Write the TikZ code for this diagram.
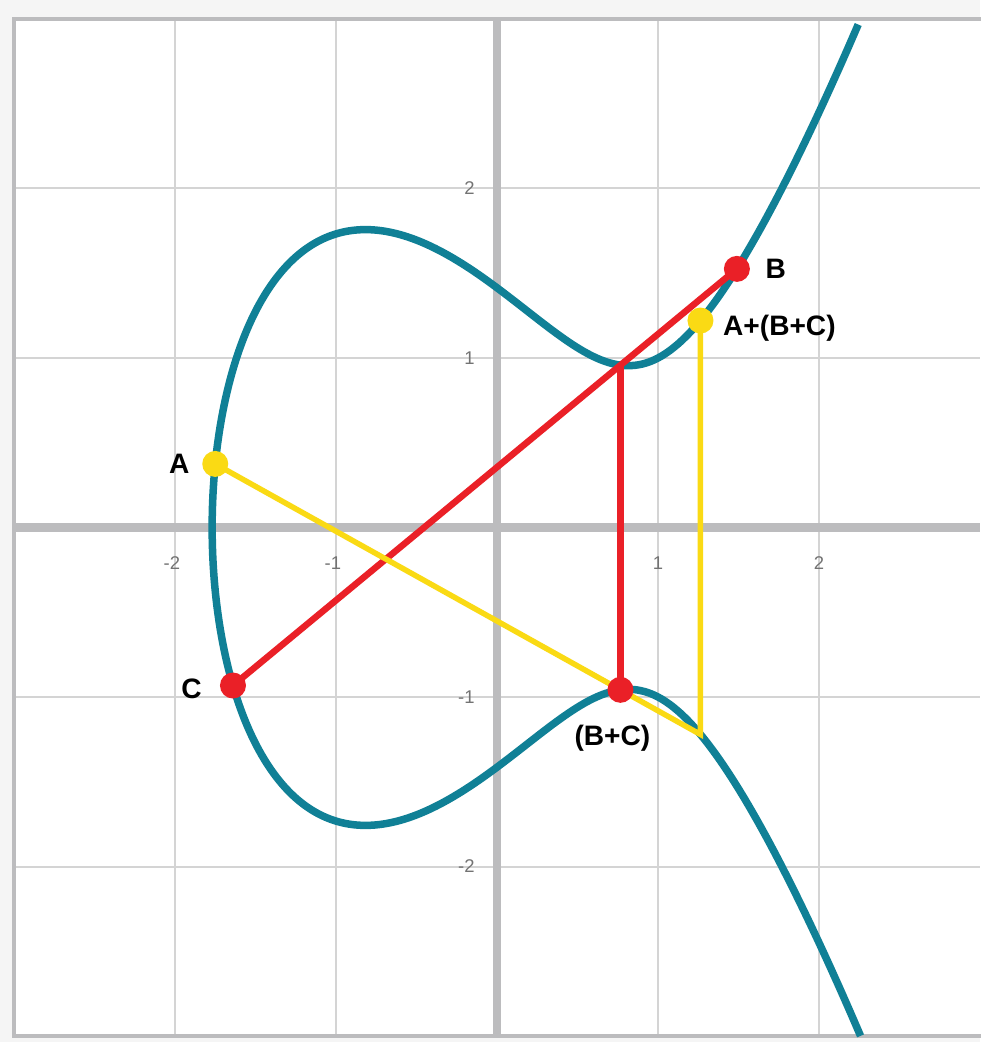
\documentclass[tikz,border=0pt]{standalone}
\usepackage{fontspec}
\setmainfont{Liberation Sans}
\usepackage{tikz}
\usetikzlibrary{positioning}
\definecolor{curvecol}{RGB}{16,128,150}
\definecolor{redpt}{RGB}{234,32,39}
\definecolor{yellowpt}{RGB}{250,218,20}
\definecolor{gridcol}{RGB}{212,212,212}
\definecolor{axiscol}{RGB}{188,188,190}
\definecolor{bgcol}{RGB}{245,245,245}
\definecolor{numcol}{RGB}{115,115,115}

\begin{document}
\begin{tikzpicture}[x=3.22cm,y=3.39cm,
    declare function={gq(\u)=\u*\u-1.76929*\u+1.130387;},
    pt/.style={circle,inner sep=0pt,minimum size=0.52cm},
    lbl/.style={inner sep=0pt,font=\fontsize{16}{19}\selectfont\bfseries},
    num/.style={inner sep=0pt,text=numcol,font=\fontsize{10.5}{12}\selectfont}]
  \useasboundingbox (-3.087,-3.0354) rectangle (3,3.1121);
  \fill[bgcol] (-3.087,-3.0354) rectangle (3,3.1121);
  \fill[white] (-3,-3) rectangle (3,3);
  % grid and axes
  \foreach \g in {-2,-1,1,2} {
    \draw[gridcol,line width=0.04cm] (\g,-3) -- (\g,3);
    \draw[gridcol,line width=0.04cm] (-3,\g) -- (3,\g);
  }
  \draw[axiscol,line width=0.16cm] (-3,0) -- (3,0);
  \draw[axiscol,line width=0.16cm] (0,-3) -- (0,3);
  \draw[axiscol,line width=0.08cm] (3.05,3) -- (-3,3) -- (-3,-3) -- (3.05,-3);
  \foreach \g/\t in {-2/\llap{-}2,-1/\llap{-}1,1/1,2/2} {
    \node[num] (xl\g) at (\g,-0.209) {\t};
    \node[num,anchor=east] (yl\g) at (-0.137,\g) {\g};
  }
  % y^2 = x^3 - 2x + 2, with x = x0 + t^2
  \draw[curvecol,line width=0.15cm,domain=-2.0068:2.0068,samples=241,smooth,variable=\t]
    plot ({\t*\t-1.76929},{\t*sqrt(gq(\t*\t-1.76929))});
  % points
  \coordinate (A) at (-1.75,0.375);
  \coordinate (B) at (1.49,1.52576);
  \coordinate (C) at (-1.64,-0.93223);
  \coordinate (P) at (0.766696,0.95775);
  \coordinate (BC) at (0.766696,-0.95775);
  \coordinate (Q) at (1.263741,-1.220966);
  \coordinate (S) at (1.263741,1.220966);
  \draw[redpt,line width=0.13cm] (C) -- (B);
  \draw[redpt,line width=0.13cm] (P) -- (BC);
  \draw[yellowpt,line width=0.11cm] (A) -- (Q) -- (S);
  \node[pt,fill=yellowpt] (Adot) at (A) {};
  \node[pt,fill=yellowpt] (Sdot) at (S) {};
  \node[pt,fill=redpt] (Bdot) at (B) {};
  \node[pt,fill=redpt] (Cdot) at (C) {};
  \node[pt,fill=redpt] (BCdot) at (BC) {};
  % labels
  \node[lbl,left=0.24cm of Adot] (Alab) {A};
  \node[lbl,right=0.3cm of Bdot] (Blab) {B};
  \node[lbl,left=0.35cm of Cdot,yshift=-0.06cm] (Clab) {C};
  \node[lbl,below=0.44cm of BCdot,xshift=-0.16cm] (BClab) {(B+C)};
  \node[lbl,right=0.18cm of Sdot,yshift=-0.15cm] (Slab) {A+(B+C)};
\end{tikzpicture}
\end{document}
